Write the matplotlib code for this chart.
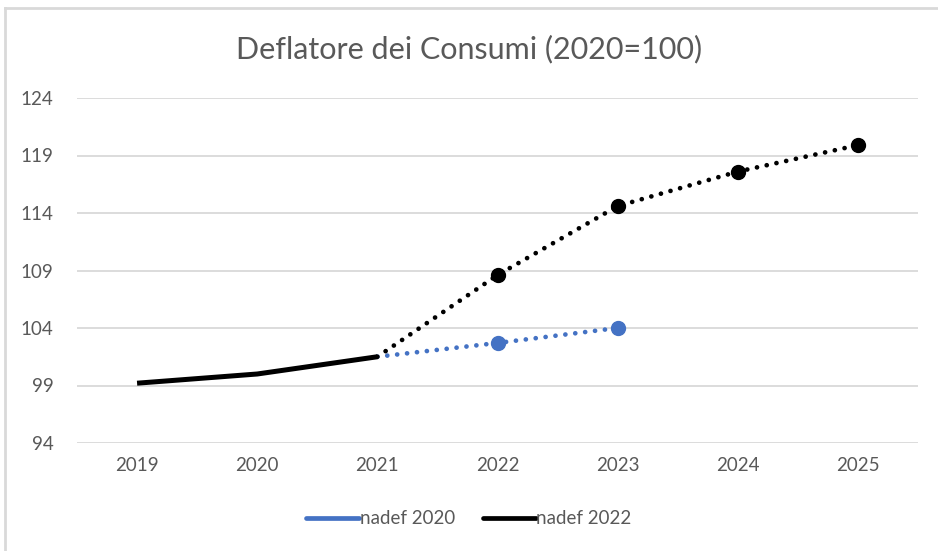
"""Deflatore dei Consumi (2020=100): nadef 2020 vs nadef 2022."""

import matplotlib

matplotlib.use("Agg")
import matplotlib.pyplot as plt
from matplotlib.lines import Line2D

years = [2019, 2020, 2021, 2022, 2023, 2024, 2025]
hist_years = [2019, 2020, 2021]
hist_values = [99.2, 100.0, 101.5]
nadef_2022_years = [2022, 2023, 2024, 2025]
nadef_2022 = [108.6, 114.6, 117.6, 119.9]
nadef_2020_years = [2022, 2023]
nadef_2020 = [102.7, 104.0]
y_ticks = [94, 99, 104, 109, 114, 119, 124]

BLUE = "#4472C4"
GREY_TEXT = "#595959"
GRID = "#D9D9D9"

plt.rcParams["font.family"] = ["Lato", "DejaVu Sans"]

fig = plt.figure(figsize=(9.38, 5.51), dpi=100)
ax = fig.add_axes([77 / 938, 1 - 443 / 551, 841 / 938, 345 / 551])

dot_style = dict(linestyle=(0, (0.01, 2.1)), dash_capstyle="round", linewidth=3.4)

# forecast segments start from the last historical point
ax.plot([hist_years[-1]] + nadef_2020_years, [hist_values[-1]] + nadef_2020,
        color=BLUE, marker="o", markersize=10, markevery=[1, 2], **dot_style, zorder=3)
ax.plot([hist_years[-1]] + nadef_2022_years, [hist_values[-1]] + nadef_2022,
        color="black", marker="o", markersize=10, markevery=[1, 2, 3, 4], **dot_style, zorder=4)
ax.plot(hist_years, hist_values, color="black", linewidth=3.6,
        solid_capstyle="butt", zorder=5)

ax.set_xlim(2018.5, 2025.5)
ax.set_ylim(94, 124)
ax.set_xticks(years)
ax.set_yticks(y_ticks)
ax.tick_params(length=0, labelsize=13.5, colors=GREY_TEXT, pad=10)
ax.tick_params(axis="y", pad=17)
ax.grid(axis="y", color=GRID, linewidth=1.3)
ax.set_axisbelow(True)
for spine in ax.spines.values():
    spine.set_visible(False)

fig.text(0.5, 1 - 49 / 551, "Deflatore dei Consumi (2020=100)", ha="center",
         va="center", fontsize=22, color=GREY_TEXT)

handles = [
    Line2D([], [], color=BLUE, linewidth=3.4, solid_capstyle="round"),
    Line2D([], [], color="black", linewidth=3.4, solid_capstyle="round"),
]
fig.legend(handles, ["nadef 2020", "nadef 2022"], loc="center",
           bbox_to_anchor=(0.5, 1 - 519 / 551), ncol=2, frameon=False,
           fontsize=13.5, labelcolor=GREY_TEXT, handlelength=2.8,
           handletextpad=0.05, columnspacing=1.5)

# chart border (partially visible, Excel-style)
fig.add_artist(Line2D([5 / 938, 5 / 938], [0, 1 - 8 / 551], color=GRID, linewidth=2))
fig.add_artist(Line2D([5 / 938, 1], [1 - 8 / 551, 1 - 8 / 551], color=GRID, linewidth=2))

fig.savefig("out.png", dpi=100)
